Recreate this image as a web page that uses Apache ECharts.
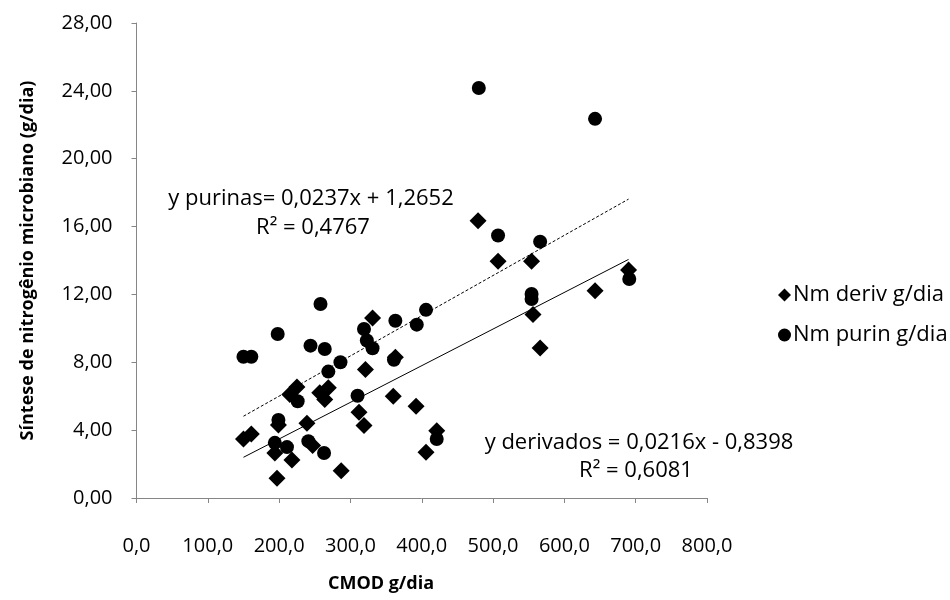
<!DOCTYPE html>
<html>
<head>
<meta charset="utf-8">
<script src="https://cdn.jsdelivr.net/npm/echarts@6/dist/echarts.min.js"></script>
<style>html,body{margin:0;padding:0;background:#fff}#c{width:950px;height:600px}</style>
</head>
<body>
<div id="c"></div>
<script>
// Nm deriv g/dia : [CMOD, Nm]
var derivData = [
  [150,3.48],[161,3.77],[199,4.3],[194,2.65],[197,1.16],[218,2.24],[215,6.1],[225,6.55],
  [239,4.4],[247,3.1],[257,6.2],[264,5.8],[269,6.5],[287,1.61],[312,5.05],[319,4.27],
  [321,7.57],[331,10.61],[360,6.0],[363,8.3],[392,5.41],[406,2.69],[421,3.97],[479,16.35],
  [507,13.95],[554,13.95],[556,10.81],[566,8.84],[643,12.22],[690,13.44]
];
// Nm purin g/dia : [CMOD, Nm]
var purinData = [
  [150,8.33],[161,8.33],[198,9.67],[244,8.98],[258,11.44],[264,8.78],[269,7.45],[286,8.0],
  [319,9.96],[323,9.28],[331,8.83],[361,8.15],[363,10.45],[393,10.22],[406,11.09],[226,5.7],
  [199,4.6],[194,3.25],[211,3.0],[241,3.35],[263,2.65],[310,6.03],[421,3.48],[480,24.17],
  [643,22.35],[507,15.47],[566,15.11],[554,12.03],[554,11.73],[691,12.91]
];
// regression coefficients [slope, intercept] as printed on chart
var purinFit = [0.0237, 1.2652];
var derivFit = [0.0216, -0.8398];
var fitRange = [150, 690];

var seriesNames = ['Nm deriv g/dia', 'Nm purin g/dia'];
var purinLabel = ['y purinas= 0,0237x + 1,2652', 'R\u00B2 = 0,4767'];
var derivLabel = ['y derivados = 0,0216x - 0,8398', 'R\u00B2 = 0,6081'];
var xTitle = 'CMOD g/dia';
var yTitle = 'Síntese de nitrogênio microbiano (g/dia)';

function fitLine(c) {
  return fitRange.map(function (x) { return [x, c[0] * x + c[1]]; });
}

var FONT = '"Open Sans", sans-serif';
var chart = echarts.init(document.getElementById('c'), null, {renderer: 'canvas'});
chart.setOption({
  animation: false,
  backgroundColor: '#ffffff',
  grid: {left: 136.5, right: 243, top: 23, bottom: 102},
  xAxis: {
    type: 'value', min: 0, max: 800, interval: 100,
    axisLine: {show: true, lineStyle: {color: '#868686', width: 1}},
    axisTick: {show: true, length: 5, lineStyle: {color: '#868686'}},
    splitLine: {show: false},
    axisLabel: {
      margin: 38, color: '#000', fontFamily: FONT, fontSize: 20,
      formatter: function (v) { return v.toFixed(1).replace('.', ','); }
    }
  },
  yAxis: {
    type: 'value', min: 0, max: 28, interval: 4,
    name: yTitle, nameLocation: 'middle', nameGap: 100,
    nameTextStyle: {color: '#000', fontFamily: FONT, fontSize: 18, fontWeight: 'bold'},
    axisLine: {show: true, lineStyle: {color: '#868686', width: 1}},
    axisTick: {show: true, length: 5, lineStyle: {color: '#868686'}},
    splitLine: {show: false},
    axisLabel: {
      margin: 24, color: '#000', fontFamily: FONT, fontSize: 20,
      formatter: function (v) { return v.toFixed(2).replace('.', ','); }
    }
  },
  legend: {
    orient: 'vertical', left: 773, top: 279, itemGap: 18,
    itemWidth: 13, itemHeight: 13,
    textStyle: {color: '#000', fontFamily: FONT, fontSize: 22, padding: [0, 0, 0, -3]},
    data: [
      {name: seriesNames[0], icon: 'diamond'},
      {name: seriesNames[1], icon: 'circle'}
    ]
  },
  series: [
    {
      name: seriesNames[0], type: 'scatter', symbol: 'diamond', symbolSize: 17,
      itemStyle: {color: '#000', opacity: 1}, data: derivData, z: 3
    },
    {
      name: seriesNames[1], type: 'scatter', symbol: 'circle', symbolSize: 14,
      itemStyle: {color: '#000', opacity: 1}, data: purinData, z: 3
    },
    {
      name: 'fit purin', type: 'line', data: fitLine(purinFit), symbol: 'none',
      lineStyle: {color: '#000', width: 1, type: [3, 2]}, z: 2, silent: true
    },
    {
      name: 'fit deriv', type: 'line', data: fitLine(derivFit), symbol: 'none',
      lineStyle: {color: '#000', width: 1}, z: 2, silent: true
    }
  ],
  graphic: [
    {type: 'text', x: 311, y: 199, style: {text: purinLabel[0], fill: '#000', font: '22px ' + FONT, align: 'center', verticalAlign: 'middle'}},
    {type: 'text', x: 313, y: 228, style: {text: purinLabel[1], fill: '#000', font: '22px ' + FONT, align: 'center', verticalAlign: 'middle'}},
    {type: 'text', x: 639, y: 443, style: {text: derivLabel[0], fill: '#000', font: '22px ' + FONT, align: 'center', verticalAlign: 'middle'}},
    {type: 'text', x: 636, y: 471, style: {text: derivLabel[1], fill: '#000', font: '22px ' + FONT, align: 'center', verticalAlign: 'middle'}},
    {type: 'text', x: 381, y: 584, style: {text: xTitle, fill: '#000', font: 'bold 18px ' + FONT, align: 'center', verticalAlign: 'middle'}}
  ]
});
</script>
</body>
</html>
